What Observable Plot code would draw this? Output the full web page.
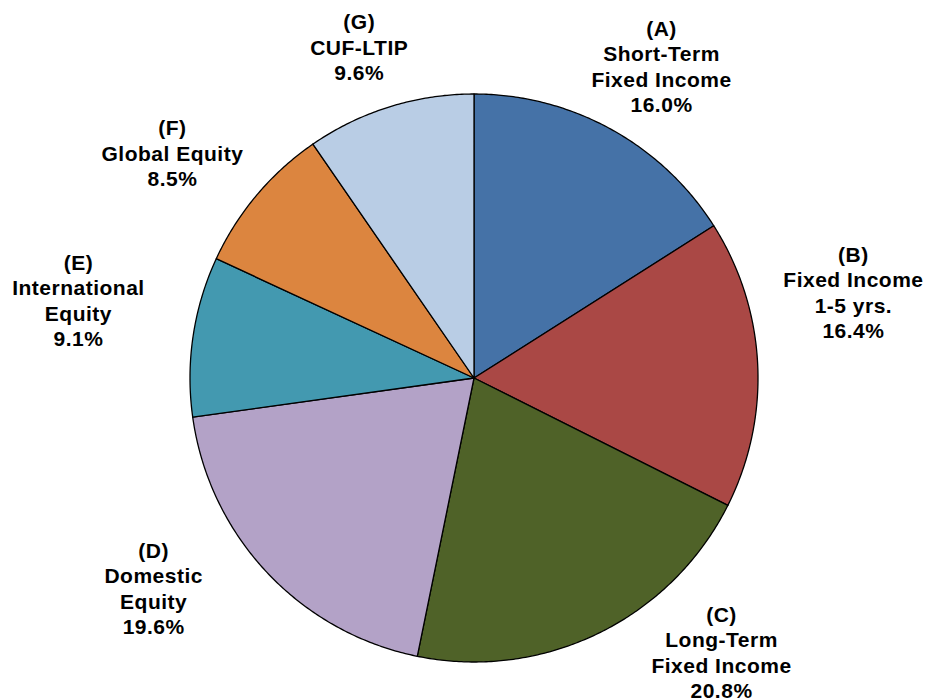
<!DOCTYPE html>
<html><head><meta charset="utf-8">
<script src="https://cdn.jsdelivr.net/npm/d3@7"></script>
<script src="https://cdn.jsdelivr.net/npm/@observablehq/plot@0.6"></script>
<style>html,body{margin:0;padding:0;background:#fff}</style>
</head><body><div id="chart"></div>
<script>
// Data
const codes = ["(A)", "(B)", "(C)", "(D)", "(E)", "(F)", "(G)"];
const names = ["Short-Term\nFixed Income", "Fixed Income\n1-5 yrs.", "Long-Term\nFixed Income", "Domestic\nEquity", "International\nEquity", "Global Equity", "CUF-LTIP"];
const shares = [16.0, 16.4, 20.8, 19.6, 9.1, 8.5, 9.6];
const colors = ["#4572A7", "#AA4845", "#4F6228", "#B3A2C7", "#4399B0", "#DC853F", "#B9CDE5"];

// Label layout (degrees clockwise from 12 o'clock, distance in pie radii)
const labelAngle = [31.0, 77.2, 137.9, 236.8, 281.2, 306.8, 340.9];
const labelRadius = [1.282, 1.370, 1.300, 1.348, 1.420, 1.326, 1.235];

const W = 930, H = 700, R = 284, CX = 473.5, CY = 377.5;

const total = d3.sum(shares);
let acc = 0;
const slices = shares.map((v, i) => {
  const a0 = acc / total * 2 * Math.PI;
  acc += v;
  const a1 = acc / total * 2 * Math.PI;
  const n = Math.max(2, Math.ceil((a1 - a0) / (Math.PI / 360)));
  const pts = [{x: 0, y: 0}];
  for (let k = 0; k <= n; k++) {
    const a = a0 + (a1 - a0) * k / n;
    pts.push({x: Math.sin(a), y: Math.cos(a)});
  }
  return {i, pts};
});

const labels = shares.map((v, i) => {
  const a = labelAngle[i] * Math.PI / 180;
  return {
    x: labelRadius[i] * Math.sin(a),
    y: labelRadius[i] * Math.cos(a),
    text: codes[i] + "\n" + names[i] + "\n" + v.toFixed(1) + "%"
  };
});

const chart = Plot.plot({
  width: W,
  height: H,
  margin: 0,
  style: {background: "#fff", overflow: "visible", letterSpacing: "0.5px"},
  x: {domain: [-CX / R, (W - CX) / R], axis: null},
  y: {domain: [-(H - CY) / R, CY / R], axis: null},
  marks: [
    ...slices.map(s => Plot.line(s.pts, {
      x: "x", y: "y", curve: "linear-closed",
      fill: colors[s.i], stroke: "black", strokeWidth: 1.3, strokeLinejoin: "round"
    })),
    Plot.text(labels, {
      x: "x", y: "y", text: "text",
      fontSize: 21, fontWeight: "bold", lineHeight: 1.214,
      textAnchor: "middle", lineAnchor: "middle", fill: "black",
      fontFamily: "'Liberation Sans', Arial, sans-serif"
    })
  ]
});
document.getElementById("chart").appendChild(chart);
</script>
</body></html>
